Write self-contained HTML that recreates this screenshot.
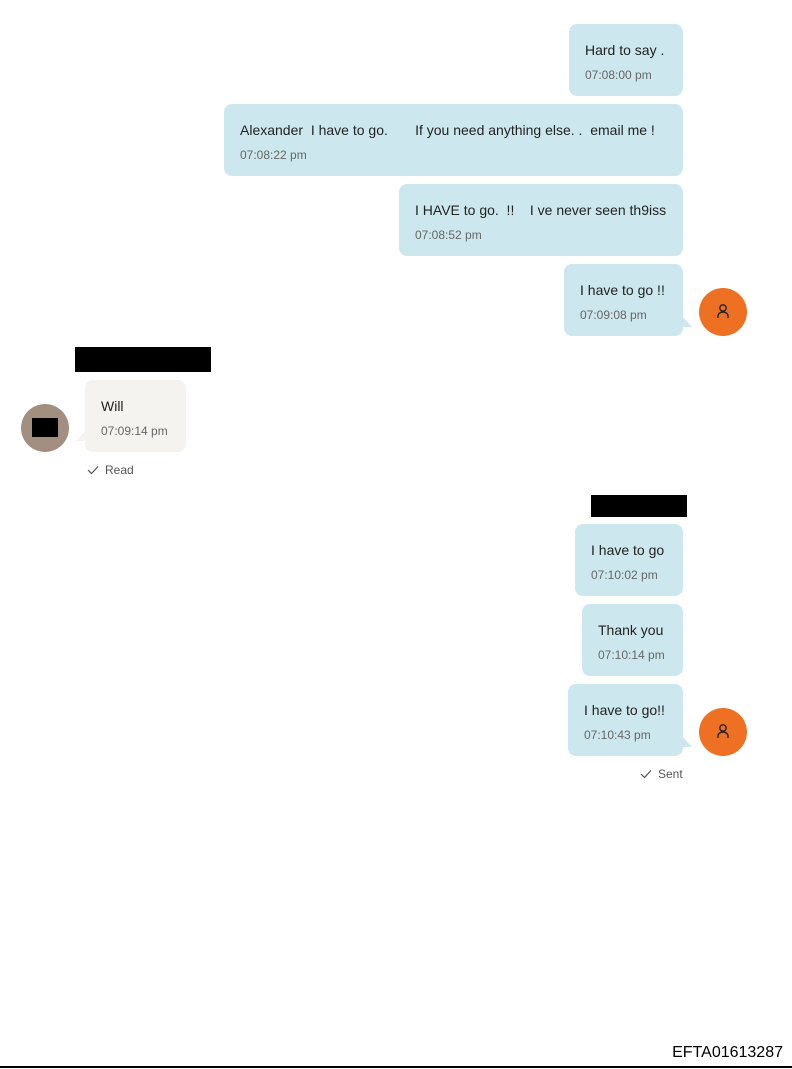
<!DOCTYPE html>
<html><head><meta charset="utf-8"><style>
body{margin:0;width:792px;height:1069px;position:relative;background:#fff;font-family:"Liberation Sans",sans-serif;overflow:hidden}
.b{position:absolute;background:#cce8ee;border-radius:8px;box-sizing:border-box;padding-left:16px;height:72px}
.b .t{position:absolute;top:18px;left:16px;font-size:14px;color:#222;white-space:pre}
.b .m{position:absolute;top:44px;left:16px;font-size:12px;color:#666;white-space:pre}
.g{background:#f4f3f0}
.av{position:absolute;width:48px;height:48px;border-radius:50%;background:#ee7022}
.red{position:absolute;background:#000}
.s{position:absolute;font-size:12px;color:#555}
.tail{position:absolute;width:0;height:0}
</style></head><body>
<div class="b" style="left:569px;top:24px;width:114px"><div class="t">Hard to say .</div><div class="m">07:08:00 pm</div></div>
<div class="b" style="left:224px;top:104px;width:459px"><div class="t">Alexander  I have to go.       If you need anything else. .  email me !</div><div class="m">07:08:22 pm</div></div>
<div class="b" style="left:399px;top:184px;width:284px"><div class="t">I HAVE to go.  !!    I ve never seen th9iss</div><div class="m">07:08:52 pm</div></div>
<div class="b" style="left:564px;top:264px;width:119px"><div class="t">I have to go !!</div><div class="m">07:09:08 pm</div></div>
<div class="tail" style="left:682px;top:316px;border-top:11px solid transparent;border-left:10px solid #cce8ee"></div>
<div class="av" style="left:699px;top:288px"></div>
<svg style="position:absolute;left:715px;top:303px" width="16" height="18" viewBox="0 0 16 18"><circle cx="8" cy="5" r="3.2" fill="none" stroke="#222" stroke-width="1.4"/><path d="M3 15 V13 a5 4 0 0 1 10 0 V15" fill="none" stroke="#222" stroke-width="1.4"/></svg>

<div class="red" style="left:75px;top:347px;width:136px;height:25px"></div>
<div class="b g" style="left:85px;top:380px;width:101px"><div class="t">Will</div><div class="m">07:09:14 pm</div></div>
<div class="tail" style="left:76px;top:430px;border-top:11px solid transparent;border-right:10px solid #f4f3f0"></div>
<div class="av" style="left:21px;top:404px;background:#a38f80"></div>
<div class="red" style="left:32px;top:418px;width:26px;height:19px"></div>
<svg style="position:absolute;left:87px;top:465px" width="12" height="10"><path d="M1 5 L4.5 8.5 L11 1.5" fill="none" stroke="#555" stroke-width="1.2"/></svg>
<div class="s" style="left:105px;top:463px">Read</div>

<div class="red" style="left:591px;top:495px;width:96px;height:22px"></div>
<div class="b" style="left:575px;top:524px;width:108px"><div class="t">I have to go</div><div class="m">07:10:02 pm</div></div>
<div class="b" style="left:582px;top:604px;width:101px"><div class="t">Thank you</div><div class="m">07:10:14 pm</div></div>
<div class="b" style="left:568px;top:684px;width:115px"><div class="t">I have to go!!</div><div class="m">07:10:43 pm</div></div>
<div class="tail" style="left:682px;top:736px;border-top:11px solid transparent;border-left:10px solid #cce8ee"></div>
<div class="av" style="left:699px;top:708px"></div>
<svg style="position:absolute;left:715px;top:723px" width="16" height="18" viewBox="0 0 16 18"><circle cx="8" cy="5" r="3.2" fill="none" stroke="#222" stroke-width="1.4"/><path d="M3 15 V13 a5 4 0 0 1 10 0 V15" fill="none" stroke="#222" stroke-width="1.4"/></svg>
<svg style="position:absolute;left:640px;top:769px" width="12" height="10"><path d="M1 5 L4.5 8.5 L11 1.5" fill="none" stroke="#555" stroke-width="1.2"/></svg>
<div class="s" style="left:658px;top:767px">Sent</div>

<div style="position:absolute;right:9px;top:1044px;font-family:'Liberation Sans',sans-serif;font-size:16px;color:#000">EFTA01613287</div>
<div style="position:absolute;left:0;top:1066px;width:792px;height:2px;background:#000"></div>
</body></html>
